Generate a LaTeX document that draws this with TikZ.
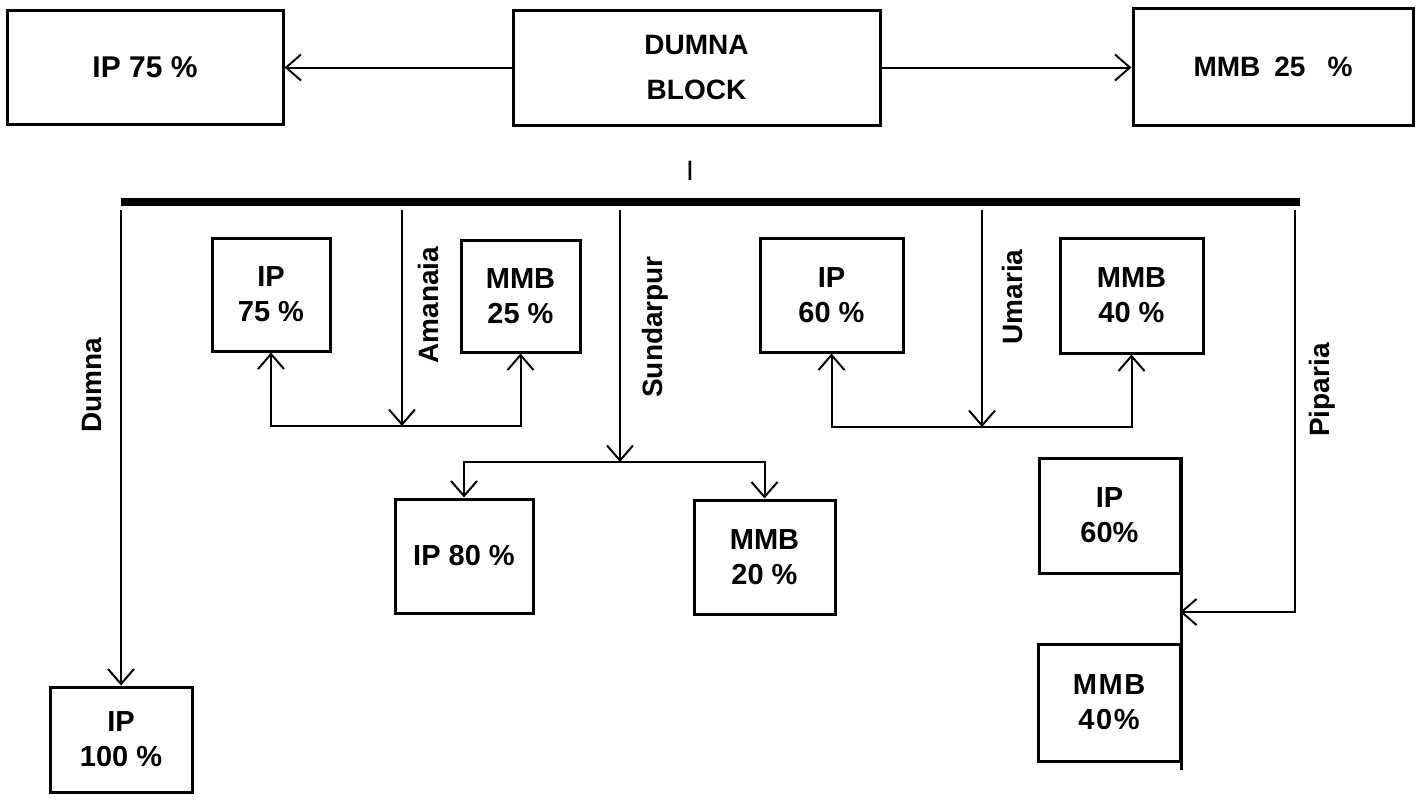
\documentclass[tikz,border=0pt]{standalone}
\usepackage{fontspec}
\setmainfont{Liberation Sans}
\usetikzlibrary{arrows.meta}
\begin{document}
\begin{tikzpicture}[x=0.5pt,y=-0.5pt,
  box/.style={draw, line width=1.5pt, inner sep=0pt, align=center,
    font=\bfseries\fontsize{14.5}{17.5}\selectfont},
  conn/.style={line width=1pt},
  arr/.style={line width=1pt, -{Straight Barb[length=7.5pt,width=13pt]}},
  lbl/.style={rotate=90, inner sep=0pt, font=\bfseries\fontsize{14}{16}\selectfont},
  bus/.style={line width=4pt}]
\useasboundingbox (0,0) rectangle (1426,803);

% top row
\node[box, minimum width=138pt, minimum height=57pt, font=\bfseries\fontsize{15}{18}\selectfont] (topIP) at (145,67) {IP 75 \%};
\node[box, minimum width=183.5pt, minimum height=57.5pt, font=\bfseries\fontsize{14}{22.5}\selectfont] (dumna) at (696.5,67.5) {DUMNA\\BLOCK};
\node[box, minimum width=140pt, minimum height=58.5pt, font=\bfseries\fontsize{14}{17}\selectfont] (topMMB) at (1273,66.5) {MMB\hspace{7pt}25\hspace{11pt}\%};
\draw[arr] (dumna.west) -- (dumna.west -| topIP.east);
\draw[arr] (dumna.east) -- (dumna.east -| topMMB.west);

% mark and bus
\node[inner sep=0pt, font=\fontsize{14}{16}\selectfont] (mark) at (690,171) {I};
\coordinate (busL) at (121,202);
\coordinate (busR) at (1300,202);
\draw[bus] (busL) -- (busR);

% boxes
\node[box, minimum width=59pt, minimum height=56.5pt] (amIP) at (271,294.5) {IP\\75 \%};
\node[box, minimum width=59.5pt, minimum height=56pt] (amMMB) at (520.5,296) {MMB\\25 \%};
\node[box, minimum width=69pt, minimum height=57pt] (suIP) at (464,556) {IP 80 \%};
\node[box, minimum width=70.5pt, minimum height=57pt] (suMMB) at (764.5,557) {MMB\\20 \%};
\node[box, minimum width=71.5pt, minimum height=57pt] (umIP) at (831.5,295) {IP\\60 \%};
\node[box, minimum width=71.5pt, minimum height=57.5pt] (umMMB) at (1131.5,295.5) {MMB\\40 \%};
\node[box, minimum width=70.5pt, minimum height=57.5pt] (piIP) at (1109.5,515.5) {IP\\60\%};
\node[box, minimum width=71pt, minimum height=58.5pt] (piMMB) at (1109,702.5) {M\kern0.8pt M\kern0.8pt B\\4\kern0.8pt 0\kern0.8pt\%};
\node[box, minimum width=71pt, minimum height=52.5pt] (duIP) at (121,739.5) {IP\\100 \%};

% Dumna branch
\coordinate (duTop) at (120,210);
\draw[arr] (duIP.north |- duTop) -- (duIP.north);
\node[lbl] (duL) at (92,385) {Dumna};

% Amanaia branch
\coordinate (amTop) at (402,210);
\coordinate (amJ) at (402,426);
\draw[arr] (amTop) -- (amJ);
\draw[arr] (amJ) -| (amIP.south);
\draw[arr] (amJ) -| (amMMB.south);
\node[lbl] (amL) at (428,305) {Amanaia};

% Sundarpur branch
\coordinate (suTop) at (620,210);
\coordinate (suJ) at (620,462);
\draw[arr] (suTop) -- (suJ);
\draw[arr] (suJ) -| (suIP.north);
\draw[arr] (suJ) -| (suMMB.north);
\node[lbl] (suL) at (655,327) {Sundarpur};

% Umaria branch
\coordinate (umTop) at (982,210);
\coordinate (umJ) at (982,427);
\draw[arr] (umTop) -- (umJ);
\draw[arr] (umJ) -| (umIP.south);
\draw[arr] (umJ) -| (umMMB.south);
\node[lbl] (umL) at (1012,297) {Umaria};

% Piparia branch
\draw[line width=1.5pt] (piIP.north east) -- ([yshift=-3.5pt]piMMB.south east);
\coordinate (piTop) at (1295,210);
\coordinate (piJ) at (1180,612);
\draw[arr] (piTop) |- (piJ);
\node[lbl] (piL) at (1322,390) {Piparia};
\end{tikzpicture}
\end{document}
